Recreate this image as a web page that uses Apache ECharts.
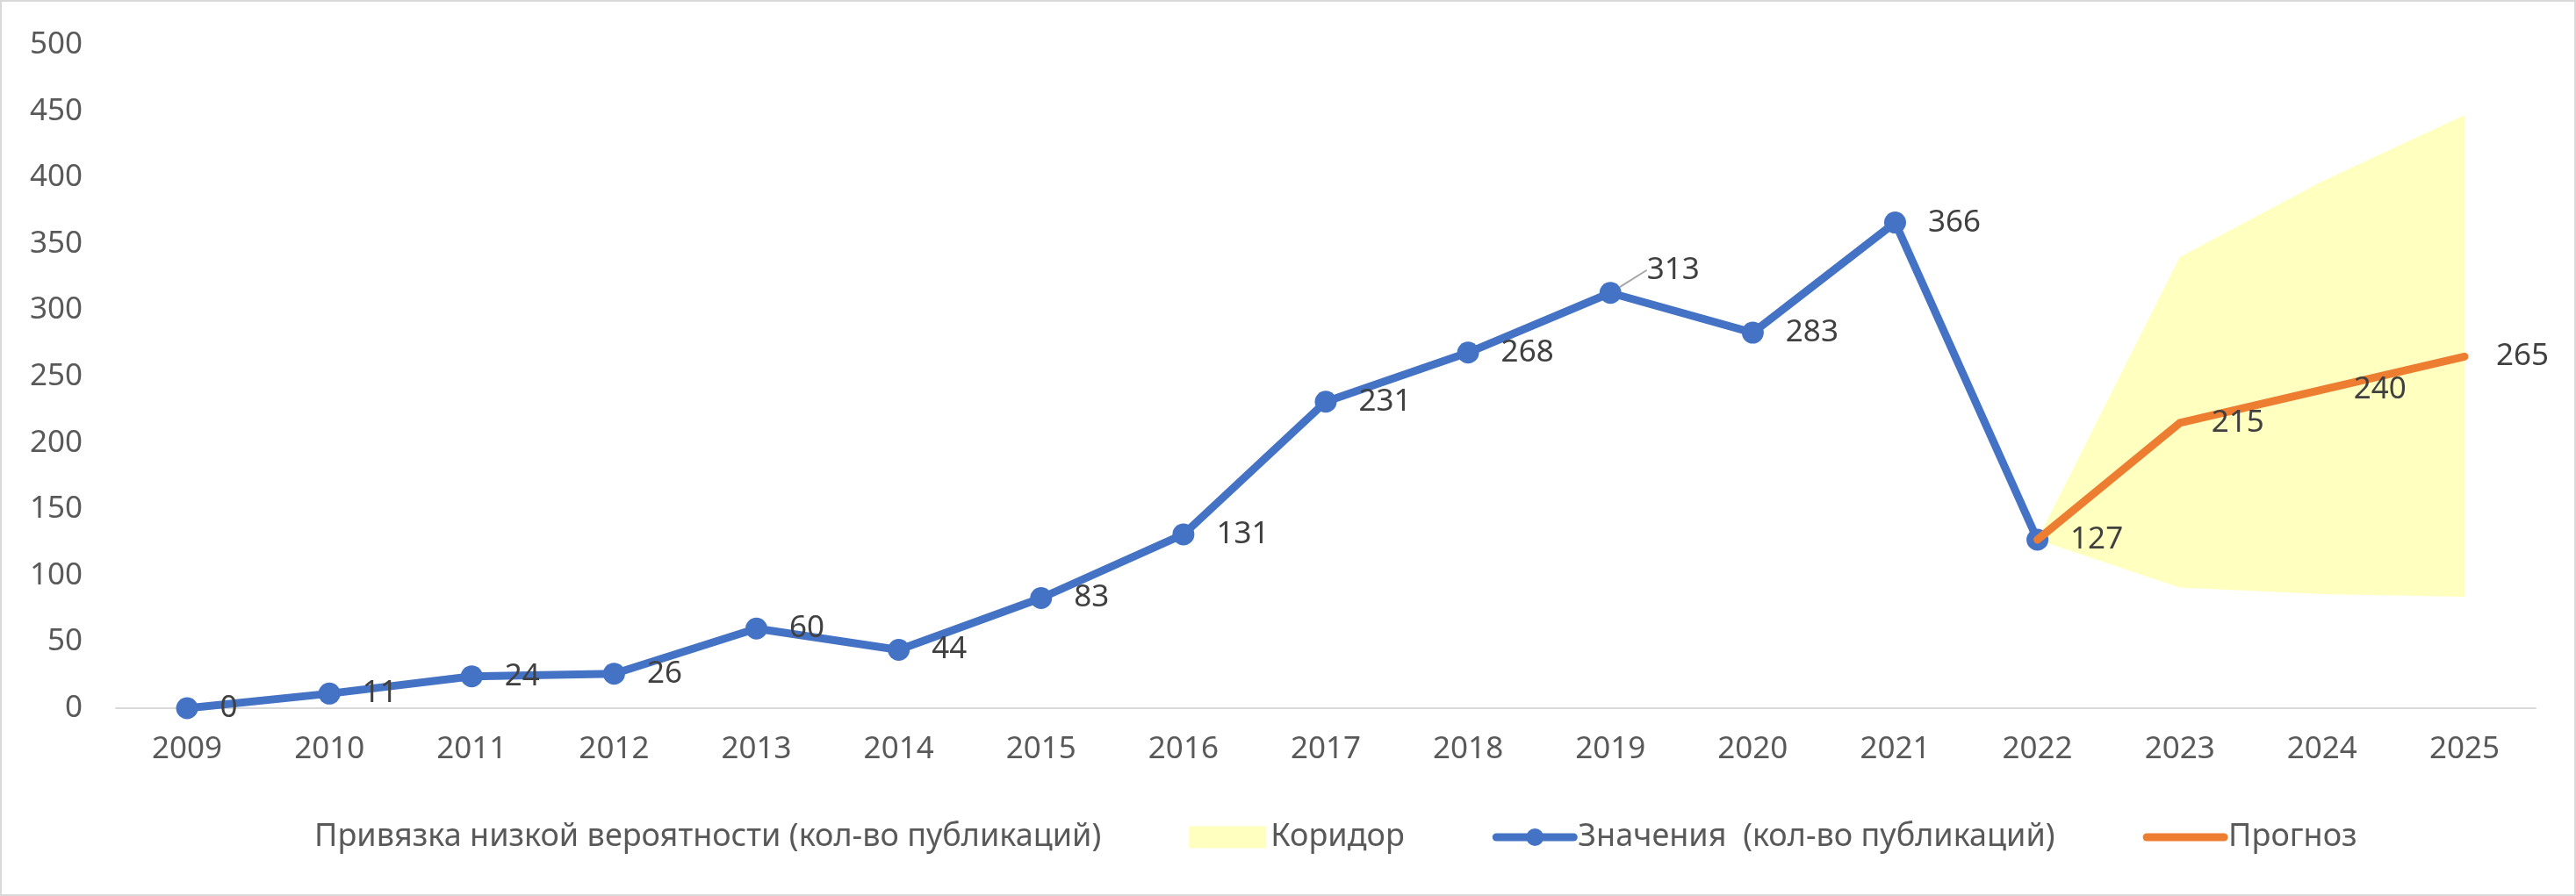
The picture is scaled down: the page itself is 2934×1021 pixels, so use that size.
<!DOCTYPE html>
<html>
<head>
<meta charset="utf-8">
<script src="https://cdn.jsdelivr.net/npm/echarts@6/dist/echarts.min.js"></script>
<style>
html,body{margin:0;padding:0;background:#fff;}
#chart{width:2934px;height:1021px;box-sizing:border-box;border:2px solid #D9D9D9;}
</style>
</head>
<body>
<div id="chart"></div>
<script>
const years = ['2009','2010','2011','2012','2013','2014','2015','2016','2017','2018','2019','2020','2021','2022','2023','2024','2025'];
const values = [0, 11, 24, 26, 60, 44, 83, 131, 231, 268, 313, 283, 366, 127, null, null, null];
const forecast = [null, null, null, null, null, null, null, null, null, null, null, null, null, 127, 215, 240, 265];
const corridorLow = [null, null, null, null, null, null, null, null, null, null, null, null, null, 127, 91, 86, 84];
const corridorHigh = [null, null, null, null, null, null, null, null, null, null, null, null, null, 127, 340, 397, 447];
const yTicks = { min: 0, max: 500, interval: 50 };

const names = {
  low: 'Привязка низкой вероятности (кол-во публикаций)',
  band: 'Коридор',
  values: 'Значения  (кол-во публикаций)',
  forecast: 'Прогноз'
};

const FONT = '"Noto Sans", "DejaVu Sans", sans-serif';
const FS = 35;

const bandWidth = corridorHigh.map((h, i) => (h == null || corridorLow[i] == null) ? null : h - corridorLow[i]);

const labelBase = {
  show: true, position: 'right', distance: 25,
  fontFamily: FONT, fontSize: FS, color: '#404040'
};

const valuesData = values.map((v, i) => {
  if (i === 10) {
    return { value: v, labelLine: { show: true, lineStyle: { color: '#A6A6A6', width: 2 } } };
  }
  return v;
});
const forecastData = forecast.map((v, i) => {
  if (i === 13) return { value: v, label: { show: false } };
  return v;
});

const chart = echarts.init(document.getElementById('chart'));
chart.setOption({
  backgroundColor: '#ffffff',
  animation: false,
  grid: { left: 130, right: 44, top: 49, bottom: 212, containLabel: false },
  legend: {
    top: 929, left: 258,
    itemWidth: 88, itemHeight: 25, itemGap: 100,
    textStyle: { fontFamily: FONT, fontSize: 36, color: '#595959' },
    data: [
      { name: names.low, icon: 'rect', itemStyle: { color: 'rgba(0,0,0,0)' } },
      { name: names.band, icon: 'rect' },
      { name: names.values, lineStyle: { width: 9 } },
      { name: names.forecast, lineStyle: { width: 9, color: '#ED7D31' }, itemStyle: { color: 'rgba(0,0,0,0)', borderWidth: 0 } }
    ]
  },
  xAxis: {
    type: 'category', data: years, boundaryGap: true,
    axisTick: { show: false },
    axisLine: { lineStyle: { color: '#D9D9D9', width: 2 } },
    axisLabel: { fontFamily: FONT, fontSize: FS, color: '#595959', margin: 30 }
  },
  yAxis: {
    type: 'value', min: yTicks.min, max: yTicks.max, interval: yTicks.interval,
    splitLine: { show: false },
    axisLine: { show: false }, axisTick: { show: false },
    axisLabel: { fontFamily: FONT, fontSize: FS, color: '#595959', margin: 38 }
  },
  series: [
    {
      name: names.low, type: 'line', stack: 'corr', data: corridorLow,
      symbol: 'none', lineStyle: { width: 0, opacity: 0 },
      areaStyle: { opacity: 0 }, itemStyle: { color: 'rgba(0,0,0,0)' },
      silent: true, z: 1
    },
    {
      name: names.band, type: 'line', stack: 'corr', data: bandWidth,
      symbol: 'none', lineStyle: { width: 0, opacity: 0 },
      itemStyle: { color: '#FFFFC0' },
      areaStyle: { color: '#FFFFC0', opacity: 1 },
      silent: true, z: 1
    },
    {
      name: names.values, type: 'line', data: valuesData,
      symbol: 'circle', symbolSize: 25,
      itemStyle: { color: '#4472C4' },
      lineStyle: { color: '#4472C4', width: 9, cap: 'round', join: 'round' },
      label: labelBase,
      labelLayout: function (p) {
        return p.dataIndex === 10 ? { dx: 4, dy: -26 } : {};
      },
      z: 3
    },
    {
      name: names.forecast, type: 'line', data: forecastData,
      symbol: 'circle', symbolSize: 2, showSymbol: true,
      itemStyle: { color: '#ED7D31' },
      lineStyle: { color: '#ED7D31', width: 9, cap: 'round', join: 'round' },
      label: Object.assign({}, labelBase, { distance: 35 }), z: 4
    }
  ]
});
</script>
</body>
</html>
